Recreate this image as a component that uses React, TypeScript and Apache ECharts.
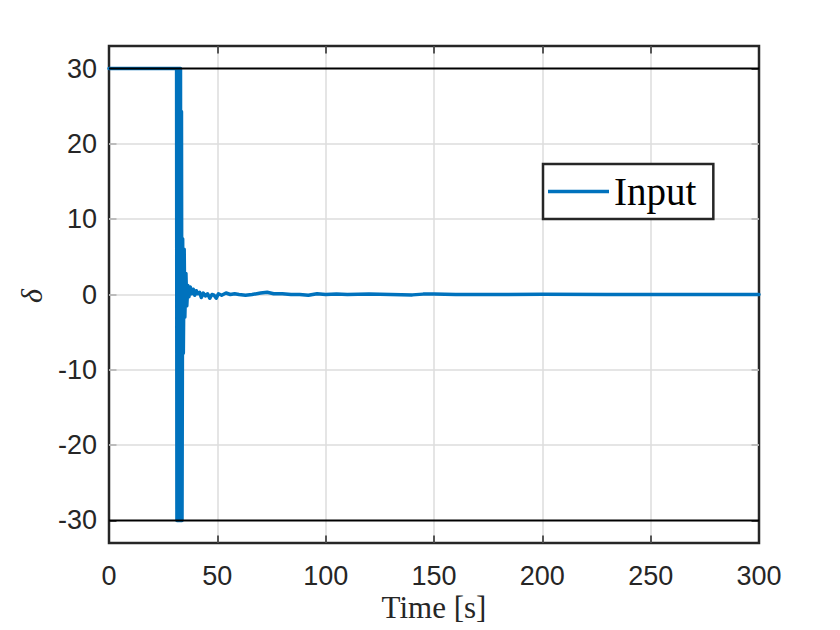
import React, { useEffect, useRef } from "react";
import * as echarts from "echarts";

const timeS: number[] = [
  0, 31.2, 31.35, 31.5, 31.65, 31.8, 31.95, 32.1, 32.25, 32.4, 32.55, 32.7, 32.85, 33.0, 33.15,
  33.45, 33.7, 34.0, 34.3, 34.7, 35.0,
  35.5, 35.9, 36.4, 36.9, 37.5, 38.2, 38.9, 39.6, 40.3, 41.0, 41.8, 42.6, 43.5, 44.5, 45.5, 46.5,
  47.5, 48.5, 49.5, 50.5, 52, 54, 56, 58, 60, 63, 66, 70, 73, 76, 80, 84, 88, 92, 96, 100, 105,
  110, 120, 130, 140, 145, 150, 160, 180, 200, 230, 260, 300,
];
const inputDeg: number[] = [
  30, 30, -30, 30, -30, 30, -30, 30, -30, 30, -30, 30, -30, 30, -30,
  24.3, -30, 7.4, -7.8, 6, -3,
  2.8, -1.5, 1.2, -0.3, 1.0, 0.1, 0.7, -0.1, 0.5, 0.1, 0.3, -0.4, 0.2, -0.2, 0.1, -0.5,
  0, -0.1, -0.5, 0.1, -0.1, 0.2, 0, 0.1, 0, -0.1, 0, 0.2, 0.3, 0.1, 0.1, 0, 0, -0.1, 0.1, 0, 0.05,
  0, 0.05, 0, -0.05, 0.05, 0.05, 0, 0, 0.02, 0, 0, 0,
];
const limitTimes: number[] = [0, 300];
const upperLimit: number[] = [30, 30];
const lowerLimit: number[] = [-30, -30];
const xTicks: number[] = [0, 50, 100, 150, 200, 250, 300];
const yTicks: number[] = [-30, -20, -10, 0, 10, 20, 30];

const seriesName = "Input";
const xLabel = "Time [s]";
const yLabel = "δ";

export default function App() {
  const ref = useRef<HTMLDivElement>(null);
  useEffect(() => {
    if (!ref.current) return;
    const chart = echarts.init(ref.current, null, { renderer: "svg" });
    const axisColor = "#262626";
    const gridColor = "#dcdcdc";
    const sans = "'Liberation Sans', Arial, sans-serif";
    const serif = "'Liberation Serif', 'Times New Roman', serif";
    const gridLine = { show: true, showMinLine: false, showMaxLine: false, lineStyle: { color: gridColor, width: 1.5 } };
    const tick = { show: true, inside: true, length: 7.5, lineStyle: { color: axisColor, width: 1.5 } };
    chart.setOption({
      animation: false,
      backgroundColor: "#ffffff",
      grid: {
        left: 109,
        top: 46,
        width: 650,
        height: 497,
        show: true,
        borderColor: axisColor,
        borderWidth: 2.5,
        backgroundColor: "transparent",
      },
      xAxis: [
        {
          type: "value",
          min: xTicks[0],
          max: xTicks[xTicks.length - 1],
          interval: 50,
          axisLine: { show: false, onZero: false },
          axisTick: tick,
          splitLine: gridLine,
          axisLabel: { color: axisColor, fontSize: 27, fontFamily: sans, margin: 19 },
        },
        {
          type: "value",
          position: "top",
          min: xTicks[0],
          max: xTicks[xTicks.length - 1],
          interval: 50,
          axisLine: { show: false, onZero: false },
          axisTick: tick,
          splitLine: { show: false },
          axisLabel: { show: false },
        },
      ],
      yAxis: [
        {
          type: "value",
          min: -33,
          max: 33,
          axisLine: { show: false, onZero: false },
          axisTick: { ...tick, customValues: yTicks },
          splitLine: { show: false },
          axisLabel: { color: axisColor, fontSize: 27, fontFamily: sans, margin: 12, customValues: yTicks },
        },
        {
          type: "value",
          position: "right",
          min: -33,
          max: 33,
          axisLine: { show: false, onZero: false },
          axisTick: { ...tick, customValues: yTicks },
          splitLine: { show: false },
          axisLabel: { show: false },
        },
      ],
      legend: {
        data: [seriesName],
        left: 543,
        top: 164,
        orient: "vertical",
        backgroundColor: "#ffffff",
        borderColor: axisColor,
        borderWidth: 2.5,
        padding: [8, 17, 8, 5],
        icon: "rect",
        itemWidth: 61,
        itemHeight: 3.5,
        textStyle: { color: "#000000", fontSize: 39, fontFamily: serif },
      },
      graphic: [
        {
          type: "text",
          x: 434,
          y: 607,
          style: { text: xLabel, font: `31px ${serif}`, fill: axisColor, align: "center", verticalAlign: "middle" },
        },
        {
          type: "text",
          x: 31,
          y: 296,
          rotation: Math.PI / 2,
          style: { text: yLabel, font: `italic 30px ${serif}`, fill: axisColor, align: "center", verticalAlign: "middle" },
        },
      ],
      series: [
        {
          name: "grid",
          type: "line",
          data: [],
          silent: true,
          z: 1,
          markLine: {
            silent: true,
            z: 1,
            symbol: "none",
            label: { show: false },
            lineStyle: { color: gridColor, width: 1.5, type: "solid" },
            data: yTicks.filter((v) => Math.abs(v) < 30).map((v) => ({ yAxis: v })),
          },
        },
        {
          name: seriesName,
          type: "line",
          data: timeS.map((t, i) => [t, inputDeg[i]]),
          showSymbol: false,
          symbol: "none",
          lineStyle: { color: "#0072BD", width: 3.5, join: "round", cap: "round" },
          itemStyle: { color: "#0072BD" },
          z: 3,
        },
        {
          name: "upper",
          type: "line",
          data: limitTimes.map((t, i) => [t, upperLimit[i]]),
          showSymbol: false,
          symbol: "none",
          lineStyle: { color: "#000000", width: 2 },
          z: 4,
        },
        {
          name: "lower",
          type: "line",
          data: limitTimes.map((t, i) => [t, lowerLimit[i]]),
          showSymbol: false,
          symbol: "none",
          lineStyle: { color: "#000000", width: 2 },
          z: 4,
        },
      ],
    });
    return () => chart.dispose();
  }, []);
  return <div ref={ref} style={{ width: 840, height: 630, position: "absolute", left: 0, top: 0 }} />;
}
